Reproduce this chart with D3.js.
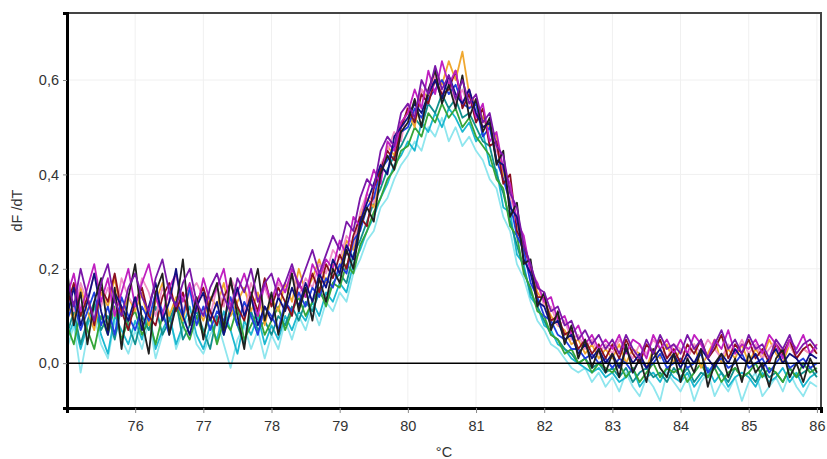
<!doctype html>
<html lang="en">
<head>
  <meta charset="utf-8">
  <title>Melt curve dF/dT</title>
  <script src="https://d3js.org/d3.v7.min.js"></script>
  <style>
    body { margin: 0; background: #fff; }
    text { font-family: "Liberation Sans", Arial, sans-serif; }
  </style>
</head>
<body>
  <div id="chart"></div>
  <script type="text/javascript">

    var width = 827, height = 459;
    var margin = {top: 13, right: 6, bottom: 51, left: 67};

    // temperature samples, 75.0 .. 86.0 every 0.1 degC
    var temps = d3.range(750, 861).map(function(d) { return d / 10; });

    var xTicks = [76, 77, 78, 79, 80, 81, 82, 83, 84, 85, 86];
    var yTicks = [0, 0.2, 0.4, 0.6];

    // dF/dT, in hundredths, one row per degree
    var lightCyan = [3,8,-2,6,10,4,1,9,5,2, 7,3,9,1,6,11,3,7,10,4, 2,6,9,4,-1,5,8,3,7,1, 6,3,9,5,10,7,12,8,13,11,
      15,13,19,22,26,28,33,35,39,42, 44,47,45,50,48,52,47,50,46,48, 45,43,39,37,31,28,21,18,13,9, 7,4,3,1,-1,-2,-1,-4,-2,-5,
      -3,-6,-2,-5,-7,-3,-5,-8,-2,-4, -6,-3,-8,-4,-2,-7,-4,-6,-3,-8, -4,-2,-7,-5,-3,-6,-2,-5,-7,-4, -5];
    var cyan = [5,9,3,8,12,6,2,10,7,4, 9,5,11,3,7,10,4,8,12,6, 3,8,5,11,7,2,9,6,10,4, 8,5,10,7,11,9,13,10,15,13,
      17,15,21,24,28,31,35,38,42,44, 47,45,51,49,53,50,54,52,49,51, 47,49,42,41,33,32,23,21,14,12, 8,7,4,3,1,0,-1,-2,-1,-3,
      -2,-4,-3,-1,-5,-3,-2,-4,-1,-3, -4,-2,-5,-3,-1,-4,-2,-5,-3,-2, -3,-5,-2,-4,-3,-1,-4,-2,-5,-3, -2];
    var teal = [6,11,4,9,13,7,10,5,12,8, 4,10,7,12,6,9,13,5,8,11, 7,3,10,6,12,8,4,11,7,9, 6,10,8,12,9,13,11,15,13,17,
      19,17,23,26,30,34,37,41,44,46, 49,52,50,55,53,57,54,56,52,53, 50,47,46,40,36,30,25,20,15,12, 9,6,5,3,2,0,1,-1,0,-2,
      -1,-3,-1,-4,-2,-1,-3,-2,-4,-1, -3,-1,-4,-2,-3,0,-2,-4,-1,-3, -2,-4,-1,-3,-2,-4,-1,-3,-2,-1, -3];
    var green = [8,4,11,7,3,10,6,12,5,9, 11,6,9,4,10,7,13,8,5,10, 6,10,4,9,7,12,5,8,11,6, 9,12,7,11,14,10,13,16,12,17,
      16,21,19,25,28,32,35,39,41,45, 46,50,48,53,51,55,52,54,50,52, 48,46,44,39,37,29,27,19,16,11, 10,6,5,2,3,0,1,-2,0,-1,
      -2,0,-3,-1,-4,-2,0,-3,-1,-2, -1,-4,-2,0,-3,-1,-4,-2,-1,-3, -2,0,-3,-1,-2,-4,-1,-3,0,-2, -1];
    var orange = [13,9,16,11,7,15,12,18,10,14, 11,15,8,13,17,10,14,9,16,12, 9,14,12,17,10,13,16,11,15,8, 14,11,17,13,20,15,18,22,17,21,
      20,26,24,31,35,33,40,46,44,51, 53,50,58,56,62,59,64,60,66,57, 55,52,50,48,40,37,30,24,21,15, 13,10,8,7,4,5,2,4,1,3,
      1,4,0,3,2,-1,3,1,4,0, 3,1,4,-1,2,5,0,3,1,4, 0,3,1,5,2,0,4,1,3,2, 4];
    var pink = [15,11,17,13,19,12,16,10,18,14, 12,18,15,10,16,13,19,11,15,17, 14,10,16,12,18,15,11,17,13,16, 12,17,15,19,14,18,16,21,19,24,
      22,27,25,32,36,34,42,45,49,47, 55,53,58,55,61,57,60,55,58,54, 56,50,51,45,42,35,31,26,20,17, 12,12,8,9,5,6,3,5,2,4,
      2,5,3,1,4,2,5,3,1,4, 3,1,4,2,5,3,1,4,2,5, 2,4,1,3,5,2,4,1,3,2, 3];
    var blue = [9,13,7,11,15,8,12,6,14,10, 7,12,9,15,11,6,13,10,16,8, 12,7,11,9,14,8,13,10,6,12, 10,7,13,11,15,12,16,14,18,16,
      21,19,26,28,33,35,41,43,46,49, 50,54,52,56,58,60,57,59,55,54, 55,48,50,43,39,34,27,24,17,14, 10,9,6,5,3,3,1,2,0,1,
      -1,1,0,-2,1,-1,0,2,-1,0, 1,-1,0,2,-2,0,1,-1,0,2, -1,0,1,-2,0,2,-1,0,1,-1, 0];
    var darkRed = [12,17,10,14,8,16,13,19,11,7, 13,16,10,8,14,17,11,15,9,13, 16,11,8,14,17,12,9,15,11,18, 12,16,13,10,17,14,19,15,21,18,
      23,20,27,31,29,37,41,45,43,50, 54,51,57,55,60,57,58,62,54,57, 51,54,46,47,38,40,28,25,20,14, 14,9,10,6,7,3,5,2,4,1,
      4,1,5,2,0,4,2,5,1,3, 0,4,2,5,1,3,6,1,4,2, 5,1,3,0,4,2,5,1,3,4, 2];
    var magenta = [14,19,11,16,21,13,18,10,15,20, 12,17,21,14,10,16,19,13,17,11, 18,13,16,20,12,15,19,14,10,17, 13,18,15,20,17,14,21,18,22,20,
      26,23,31,29,36,41,38,47,45,51, 53,58,54,62,57,64,59,62,55,58, 52,55,47,49,41,38,30,27,19,17, 13,14,9,10,6,8,4,6,3,5,
      3,6,2,5,4,1,6,3,5,2, 5,2,6,4,1,5,3,7,2,4, 3,5,2,6,4,1,5,3,6,2, 4];
    var navy = [10,16,8,13,19,11,6,15,12,9, 14,7,12,17,9,13,20,10,6,12, 15,9,13,6,11,16,10,14,8,12, 9,14,11,16,12,17,13,19,16,22,
      19,25,22,30,34,38,42,40,48,50, 52,55,53,57,60,56,61,57,55,58, 53,50,51,43,42,33,31,22,19,13, 12,8,9,5,6,2,4,1,3,0,
      2,-1,3,0,2,-1,1,3,0,2, -1,2,0,3,1,-1,2,0,3,1, 0,2,-1,1,3,0,2,1,-1,2, 1];
    var black = [20,8,15,4,13,18,7,16,3,14, 21,9,2,15,19,6,12,22,8,14, 5,13,17,7,18,10,3,14,20,9, 15,6,12,19,11,16,9,18,13,20,
      17,24,20,29,33,30,40,44,41,49, 51,56,50,58,62,55,59,54,61,52, 56,49,52,42,45,31,34,21,22,12, 15,7,11,4,8,1,5,-1,3,-2,
      2,-3,4,-2,1,-4,3,-1,-3,2, -4,1,-2,3,-5,0,2,-3,1,-4, 2,-2,0,-5,1,3,-3,0,-4,1, -2];
    var purple = [18,12,20,14,9,17,21,13,10,16, 19,14,11,18,22,15,12,17,20,13, 10,16,19,14,11,18,15,20,13,17, 19,14,17,21,16,20,24,19,23,27,
      24,30,28,35,39,37,45,48,46,53, 55,52,60,57,63,58,61,56,60,55, 57,51,53,46,44,36,33,25,21,16, 15,11,12,8,9,5,7,4,6,3,
      5,2,6,3,1,5,2,6,3,4, 2,6,3,5,1,4,7,3,5,2, 6,3,4,1,5,3,6,2,4,5, 3];

    // drawing order: pale ones underneath
    var series = [lightCyan, cyan, teal, green, orange, pink, blue, darkRed, magenta, navy, black, purple];
    var colors = ['#8fe6ee', '#1cb8d0', '#11908f', '#35a53a', '#f0a830', '#f090c8',
                  '#2040e0', '#8a1020', '#c020c0', '#101080', '#202020', '#7a18a8'];

    var x = d3.scaleLinear()
              .domain([75, 86.06])
              .range([margin.left, width - margin.right]);

    var y = d3.scaleLinear()
              .domain([-0.095, 0.742])
              .range([height - margin.bottom, margin.top]);

    var svg = d3.select('#chart')
                .append('svg')
                .attr('width', width)
                .attr('height', height);

    var fmt = function(d) { return d3.format('.1f')(d).replace('.', ','); };

    // faint grid
    svg.append('g')
       .selectAll('line')
       .data(xTicks)
       .enter()
       .append('line')
       .attr('x1', function(d) { return x(d); })
       .attr('x2', function(d) { return x(d); })
       .attr('y1', margin.top)
       .attr('y2', height - margin.bottom)
       .attr('stroke', '#f0f0f0');

    svg.append('g')
       .selectAll('line')
       .data(yTicks.slice(1))
       .enter()
       .append('line')
       .attr('x1', margin.left)
       .attr('x2', width - margin.right)
       .attr('y1', function(d) { return y(d); })
       .attr('y2', function(d) { return y(d); })
       .attr('stroke', '#f0f0f0');

    var line = d3.line()
                 .x(function(d, i) { return x(temps[i]); })
                 .y(function(d) { return y(d / 100); });

    svg.append('g')
       .selectAll('path')
       .data(series)
       .enter()
       .append('path')
       .attr('d', line)
       .attr('fill', 'none')
       .attr('stroke', function(d, i) { return colors[i]; })
       .attr('stroke-width', 1.8)
       .attr('stroke-linejoin', 'round');

    // zero line
    svg.append('line')
       .attr('x1', margin.left)
       .attr('x2', width - margin.right)
       .attr('y1', y(0))
       .attr('y2', y(0))
       .attr('stroke', '#000')
       .attr('stroke-width', 1.5);

    // top and right frame
    svg.append('path')
       .attr('d', 'M' + margin.left + ',' + margin.top + 'H' + (width - margin.right) + 'V' + (height - margin.bottom))
       .attr('fill', 'none')
       .attr('stroke', '#444')
       .attr('stroke-width', 2);

    var xAxis = svg.append('g')
                   .attr('transform', 'translate(0,' + (height - margin.bottom) + ')')
                   .call(d3.axisBottom(x).tickValues(xTicks).tickSize(5).tickPadding(8).tickFormat(d3.format('d')));

    var yAxis = svg.append('g')
                   .attr('transform', 'translate(' + margin.left + ',0)')
                   .call(d3.axisLeft(y).tickValues(yTicks).tickSize(4).tickPadding(4).tickFormat(fmt));

    [xAxis, yAxis].forEach(function(a) {
      a.select('.domain').attr('stroke', '#000').attr('stroke-width', 3);
      a.selectAll('.tick line').attr('stroke', '#888');
      a.selectAll('.tick text').attr('fill', '#333').style('font-size', '14.5px');
    });

    svg.append('text')
       .attr('transform', 'translate(22,' + ((margin.top + height - margin.bottom) / 2) + ') rotate(-90)')
       .attr('text-anchor', 'middle')
       .attr('fill', '#333')
       .style('font-size', '14.5px')
       .text('dF /dT');

    svg.append('text')
       .attr('x', (margin.left + width - margin.right) / 2)
       .attr('y', 457)
       .attr('text-anchor', 'middle')
       .attr('fill', '#333')
       .style('font-size', '14.5px')
       .text('°C');

  </script>
</body>
</html>
